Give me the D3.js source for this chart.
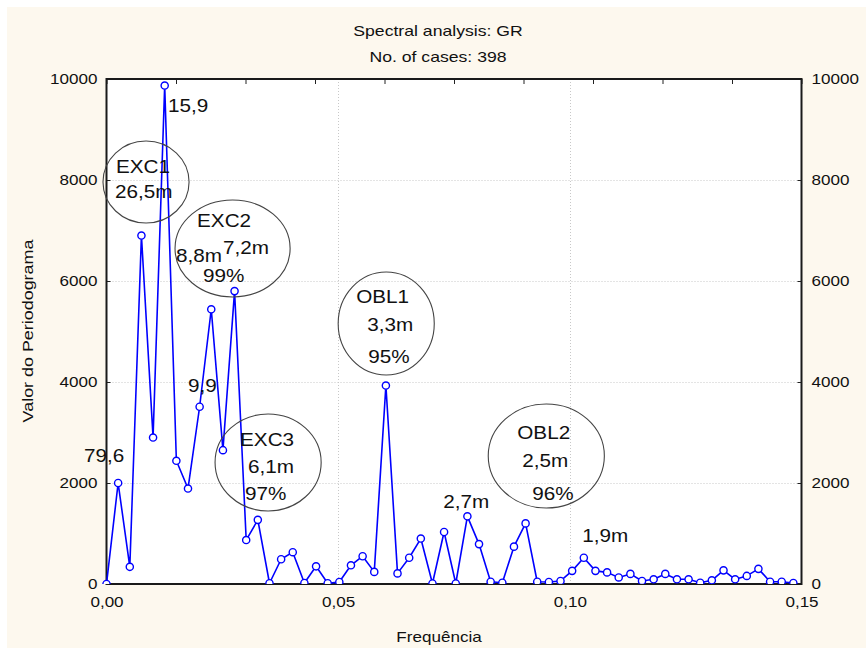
<!DOCTYPE html>
<html>
<head>
<meta charset="utf-8">
<script src="https://cdn.jsdelivr.net/npm/d3@7"></script>
<style>
  html, body { margin: 0; padding: 0; background: #ffffff; }
  svg { display: block; font-family: "Liberation Sans", Arial, sans-serif; }
</style>
</head>
<body>
<svg id="chart" width="866" height="648"></svg>
<script>
// ---------------- data ----------------
const titleLines = ["Spectral analysis: GR", "No. of cases: 398"];
const xTitle = "Frequência";
const yTitle = "Valor do Periodograma";

const frequencies = [
  0.00000, 0.00251, 0.00503, 0.00754, 0.01005, 0.01256, 0.01508, 0.01759, 0.02010, 0.02261,
  0.02513, 0.02764, 0.03015, 0.03266, 0.03518, 0.03769, 0.04020, 0.04271, 0.04523, 0.04774,
  0.05025, 0.05276, 0.05528, 0.05779, 0.06030, 0.06281, 0.06533, 0.06784, 0.07035, 0.07286,
  0.07538, 0.07789, 0.08040, 0.08291, 0.08543, 0.08794, 0.09045, 0.09296, 0.09548, 0.09799,
  0.10050, 0.10302, 0.10553, 0.10804, 0.11055, 0.11307, 0.11558, 0.11809, 0.12060, 0.12312,
  0.12563, 0.12814, 0.13065, 0.13317, 0.13568, 0.13819, 0.14070, 0.14322, 0.14573, 0.14824
];
const periodogram = [
  0, 2000, 340, 6900, 2900, 9870, 2440, 1890, 3510, 5440,
  2650, 5800, 870, 1270, 15, 490, 630, 20, 350, 15,
  40, 370, 550, 240, 3930, 210, 520, 900, 10, 1030,
  10, 1340, 790, 45, 25, 740, 1200, 45, 40, 60,
  260, 520, 260, 230, 130, 200, 60, 93, 200, 93,
  93, 25, 73, 270, 93, 160, 300, 45, 45, 20
];

const xTickValues = [0, 0.05, 0.10, 0.15];
const xTopTickValues = [0, 0.015, 0.03, 0.045, 0.06, 0.075, 0.09, 0.105, 0.12, 0.135, 0.15];
const yTickValues = [0, 2000, 4000, 6000, 8000, 10000];
const xGridValues = [0.05, 0.10];
const yGridValues = [2000, 4000, 6000, 8000];

// annotation labels: text, frequency, value (left/baseline anchor)
const noteTexts = ["15,9", "EXC1", "26,5m", "EXC2", "8,8m", "7,2m", "99%", "9,9", "79,6",
                   "EXC3", "6,1m", "97%", "OBL1", "3,3m", "95%", "2,7m", "OBL2", "2,5m", "96%", "1,9m"];
const noteFreqs = [0.01328, 0.00205, 0.00184, 0.01955, 0.01501, 0.02516, 0.02084, 0.01760, -0.00486,
                   0.02883, 0.03056, 0.02991, 0.05389, 0.05626, 0.05648, 0.07268, 0.08866, 0.08974, 0.09190, 0.10270];
const noteValues = [9350, 8139, 7644, 7069, 6376, 6535, 5980, 3802, 2416,
                    2733, 2198, 1663, 5564, 5010, 4376, 1505, 2871, 2317, 1663, 832];

// circled groups: centre frequency, centre value, half-width (freq), half-height (value)
const circleNames = ["EXC1", "EXC2", "EXC3", "OBL1", "OBL2"];
const circleFreqs = [0.00853, 0.02721, 0.03488, 0.06037, 0.09492];
const circleValues = [7960, 6644, 2406, 5158, 2535];
const circleHalfFreq = [0.00929, 0.01242, 0.01145, 0.01037, 0.01253];
const circleHalfValue = [812, 960, 960, 1020, 1030];

// ---------------- layout ----------------
const W = 866, H = 648;
const plot = { left: 106.5, right: 801.5, top: 79, bottom: 584 };
const SX = 1.22; // horizontal stretch of the reference lettering

const svg = d3.select("#chart");

svg.append("rect").attr("x", 7).attr("y", 7).attr("width", W - 7).attr("height", H - 7)
  .attr("fill", "#fdf8ee");

const x = d3.scaleLinear().domain([0, 0.15]).range([plot.left, plot.right]);
const y = d3.scaleLinear().domain([0, 10000]).range([plot.bottom, plot.top]);

svg.append("rect").attr("x", plot.left).attr("y", plot.top)
  .attr("width", plot.right - plot.left).attr("height", plot.bottom - plot.top)
  .attr("fill", "#ffffff");

function stretchText(sel, tx, ty, sx) {
  sel.attr("x", 0).attr("y", 0)
     .attr("transform", (d, i, n) => `translate(${typeof tx === "function" ? tx(d, i) : tx},${typeof ty === "function" ? ty(d, i) : ty}) scale(${sx},1)`);
}

// gridlines
const grid = svg.append("g").attr("stroke", "#c8c8c8").attr("stroke-width", 1)
  .attr("stroke-dasharray", "1,2");
grid.selectAll("line.gx").data(xGridValues).join("line")
  .attr("x1", d => Math.round(x(d)) + 0.5).attr("x2", d => Math.round(x(d)) + 0.5)
  .attr("y1", plot.top).attr("y2", plot.bottom);
grid.selectAll("line.gy").data(yGridValues).join("line")
  .attr("y1", d => Math.round(y(d)) + 0.5).attr("y2", d => Math.round(y(d)) + 0.5)
  .attr("x1", plot.left).attr("x2", plot.right);

// axes (ticks inward)
const fmtLocale = d3.formatLocale({ decimal: ",", thousands: ".", grouping: [3], currency: ["", ""] });
const xFmt = fmtLocale.format(".2f");

const axisStyle = g => {
  g.select(".domain").remove();
  g.selectAll(".tick line").attr("stroke", "#222").attr("stroke-width", 1);
  g.selectAll("text").attr("fill", "#111").attr("font-size", 14)
    .attr("font-family", "'Liberation Sans', Arial, sans-serif");
};

const gLeft = svg.append("g").attr("transform", `translate(${plot.left},0)`)
  .call(d3.axisLeft(y).tickValues(yTickValues).tickSize(-4).tickPadding(9).tickFormat(d3.format("d")))
  .call(axisStyle);
gLeft.selectAll(".tick text").each(function () {
  const t = d3.select(this); const tx = +t.attr("x");
  t.attr("x", 0).attr("transform", `translate(${tx},0) scale(${SX},1)`);
});

const gRight = svg.append("g").attr("transform", `translate(${plot.right},0)`)
  .call(d3.axisRight(y).tickValues(yTickValues).tickSize(-4).tickPadding(10).tickFormat(d3.format("d")))
  .call(axisStyle);
gRight.selectAll(".tick text").each(function () {
  const t = d3.select(this); const tx = +t.attr("x");
  t.attr("x", 0).attr("transform", `translate(${tx},0) scale(${SX},1)`);
});
gRight.selectAll(".tick").filter(d => d === 0).select("line").remove();
gLeft.selectAll(".tick").filter(d => d === 0).select("line").remove();

const gBottom = svg.append("g").attr("transform", `translate(0,${plot.bottom})`)
  .call(d3.axisBottom(x).tickValues(xTickValues).tickSize(0).tickPadding(13).tickFormat(xFmt))
  .call(axisStyle);
gBottom.selectAll(".tick text").each(function () {
  const t = d3.select(this);
  t.attr("transform", `scale(${SX},1)`);
});

const gTop = svg.append("g").attr("transform", `translate(0,${plot.top})`)
  .call(d3.axisTop(x).tickValues(xTopTickValues).tickSize(-5).tickFormat(""))
  .call(axisStyle);

// frame
svg.append("rect").attr("x", plot.left).attr("y", plot.top)
  .attr("width", plot.right - plot.left).attr("height", plot.bottom - plot.top)
  .attr("fill", "none").attr("stroke", "#1a1a1a").attr("stroke-width", 2);

// titles
svg.selectAll("text.title").data(titleLines).join("text").attr("class", "title")
  .attr("text-anchor", "middle").attr("font-size", 14).attr("fill", "#111")
  .text(d => d)
  .call(stretchText, 438, (d, i) => 36 + i * 26, 1.26);

svg.append("text").attr("text-anchor", "middle").attr("font-size", 14).attr("fill", "#111")
  .text(xTitle)
  .call(stretchText, 439, 642, SX);

svg.append("text").attr("text-anchor", "middle").attr("font-size", 14).attr("fill", "#111")
  .attr("transform", `translate(33,331) rotate(-90) scale(1.28,1)`)
  .text(yTitle);

// series
const pts = frequencies.map((f, i) => ({ f, v: periodogram[i] }));
const clip = svg.append("clipPath").attr("id", "plotclip").append("rect")
  .attr("x", plot.left - 6).attr("y", plot.top - 6)
  .attr("width", plot.right - plot.left + 12).attr("height", plot.bottom - plot.top + 6);

const series = svg.append("g").attr("clip-path", "url(#plotclip)");
series.append("path").datum(pts)
  .attr("fill", "none").attr("stroke", "#0000ff").attr("stroke-width", 1.6)
  .attr("stroke-linejoin", "round")
  .attr("d", d3.line().x(d => x(d.f)).y(d => y(d.v)));
series.selectAll("circle").data(pts).join("circle")
  .attr("cx", d => x(d.f)).attr("cy", d => y(d.v)).attr("r", 3.6)
  .attr("fill", "#ffffff").attr("stroke", "#0000ff").attr("stroke-width", 1.4);

// ellipses
svg.selectAll("ellipse").data(circleNames).join("ellipse")
  .attr("cx", (d, i) => x(circleFreqs[i])).attr("cy", (d, i) => y(circleValues[i]))
  .attr("rx", (d, i) => x(circleHalfFreq[i]) - x(0))
  .attr("ry", (d, i) => y(0) - y(circleHalfValue[i]))
  .attr("fill", "none").attr("stroke", "#444444").attr("stroke-width", 1.1);

// annotation texts
svg.selectAll("text.note").data(noteTexts).join("text").attr("class", "note")
  .attr("font-size", 18).attr("fill", "#111")
  .text(d => d)
  .call(stretchText, (d, i) => x(noteFreqs[i]), (d, i) => y(noteValues[i]), 1.15);
</script>
</body>
</html>
